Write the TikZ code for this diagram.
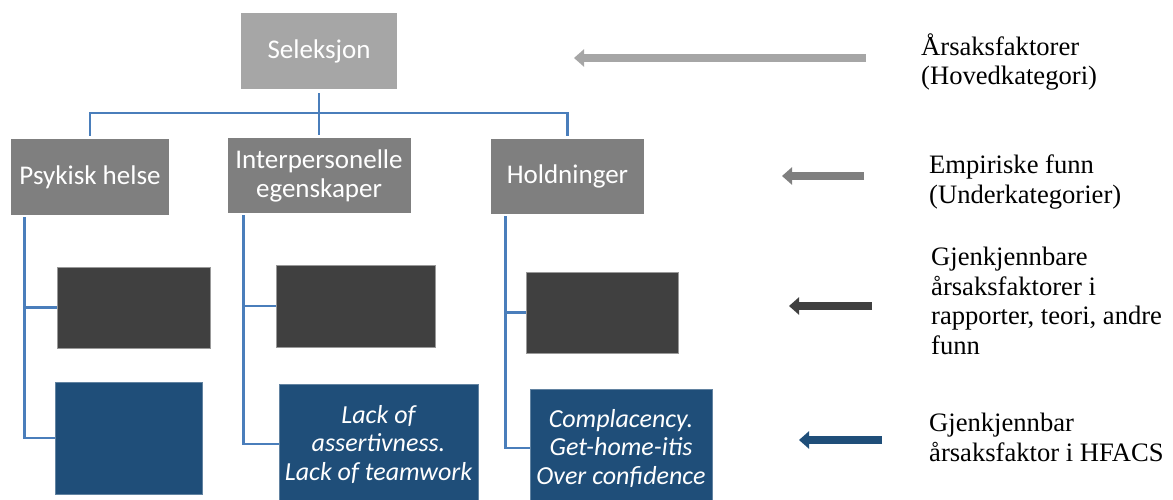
\documentclass[tikz,border=0pt]{standalone}
\usepackage{fontspec}
\setmainfont{Liberation Serif}
\newfontfamily\boxfont{Carlito}
\usetikzlibrary{arrows.meta}
\definecolor{maingray}{HTML}{A6A6A6}
\definecolor{subgray}{HTML}{7F7F7F}
\definecolor{darkbox}{HTML}{404040}
\definecolor{hfacsblue}{HTML}{1F4E79}
\definecolor{linkblue}{HTML}{4A7EBB}
\begin{document}
\begin{tikzpicture}[x=1pt,y=-1pt,
  box/.style={inner sep=0pt, text=white, align=center,
    font=\boxfont\fontsize{27}{29}\selectfont},
  catbox/.style={box, fill=maingray},
  subbox/.style={box, fill=subgray},
  findbox/.style={box, fill=darkbox, draw=gray!80, line width=0.6pt},
  hfbox/.style={box, fill=hfacsblue, draw=hfacsblue!70!white, line width=0.6pt,
    font=\boxfont\itshape\fontsize{26}{28.5}\selectfont},
  conn/.style={draw=linkblue, line width=2.8pt},
  legarrow/.style={line width=8pt, -{Triangle[length=10pt,width=17pt]}},
  legend/.style={anchor=north west, inner sep=0pt, align=left,
    font=\fontsize{26.6}{29.5}\selectfont}
]
\useasboundingbox (0,0) rectangle (1173,500);

% category tree
\node[catbox, minimum width=156pt, minimum height=76pt] (sel) at (319,51) {Seleksjon};
\node[subbox, minimum width=158pt, minimum height=76pt] (psy) at (90,177) {Psykisk helse};
\node[subbox, minimum width=183pt, minimum height=75pt] (inter) at (319,175.5) {Interpersonelle\\egenskaper};
\node[subbox, minimum width=153pt, minimum height=75pt] (hold) at (567.5,176.5) {Holdninger};

% findings
\node[findbox, minimum width=153pt, minimum height=81pt] (d1) at (133.5,307.5) {};
\node[findbox, minimum width=159pt, minimum height=82pt] (d2) at (355.5,306) {};
\node[findbox, minimum width=152pt, minimum height=81pt] (d3) at (602,312.5) {};

% HFACS factors
\node[hfbox, minimum width=147pt, minimum height=112pt] (b1) at (128.5,438) {};
\node[hfbox, minimum width=199pt, minimum height=120pt] (b2) at (378.5,444) {Lack of\\assertivness.\\Lack of teamwork};
\node[hfbox, minimum width=182pt, minimum height=118pt] (b3) at (621,448) {Complacency.\\Get-home-itis\\Over confidence};

% connectors
\coordinate (bus) at (319,113);
\draw[conn] ([yshift=-4pt]sel.south) -- ([yshift=3pt]inter.north);
\draw[conn] ([yshift=3pt]psy.north) |- (bus) -| ([yshift=3pt]hold.north);

\draw[conn] ([xshift=14pt,yshift=-2pt]psy.south west) |- (d1.west);
\draw[conn] ([xshift=14pt,yshift=-2pt]psy.south west) |- (b1.west);
\draw[conn] ([xshift=16.5pt,yshift=-2pt]inter.south west) |- (d2.west);
\draw[conn] ([xshift=16.5pt,yshift=-2pt]inter.south west) |- (b2.west);
\draw[conn] ([xshift=15pt,yshift=-2pt]hold.south west) |- (d3.west);
\draw[conn] ([xshift=15pt,yshift=-2pt]hold.south west) |- (b3.west);

% legend
\node[legend] (t1) at (921,33) {Årsaksfaktorer\\(Hovedkategori)};
\node[legend] (t2) at (929,155) {Empiriske funn\\(Underkategorier)};
\node[legend] (t3) at (931,247) {Gjenkjennbare\\årsaksfaktorer i\\rapporter, teori, andre\\funn};
\node[legend] (t4) at (929,413) {Gjenkjennbar\\årsaksfaktor i HFACS};

\coordinate (a1s) at (866,58);  \coordinate (a1e) at (574,58);
\coordinate (a2s) at (864,176); \coordinate (a2e) at (782,176);
\coordinate (a3s) at (872,306); \coordinate (a3e) at (789,306);
\coordinate (a4s) at (882,440); \coordinate (a4e) at (799,440);
\draw[legarrow, maingray] (a1s) -- (a1e);
\draw[legarrow, subgray] (a2s) -- (a2e);
\draw[legarrow, darkbox] (a3s) -- (a3e);
\draw[legarrow, hfacsblue] (a4s) -- (a4e);
\end{tikzpicture}
\end{document}
